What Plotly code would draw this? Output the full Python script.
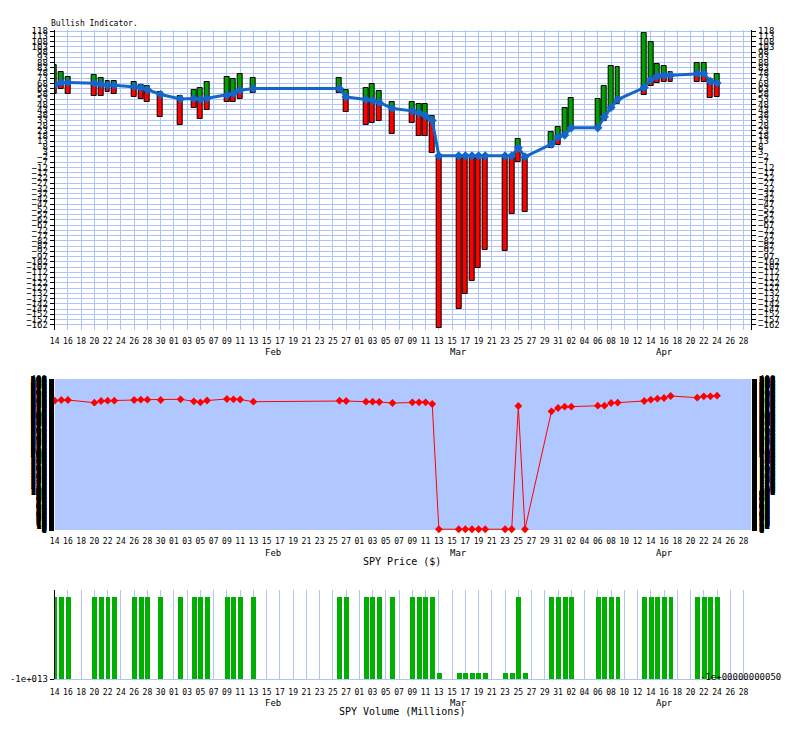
import plotly.graph_objects as go

# trading days shared by the three panels
days = [
    "2021-01-14", "2021-01-15", "2021-01-16", "2021-01-20", "2021-01-21", "2021-01-22",
    "2021-01-23", "2021-01-26", "2021-01-27", "2021-01-28", "2021-01-30",
    "2021-02-02", "2021-02-04", "2021-02-05", "2021-02-06", "2021-02-09", "2021-02-10",
    "2021-02-11", "2021-02-13", "2021-02-26", "2021-02-27",
    "2021-03-02", "2021-03-03", "2021-03-04", "2021-03-06", "2021-03-09", "2021-03-10",
    "2021-03-11", "2021-03-12", "2021-03-13", "2021-03-16", "2021-03-17", "2021-03-18",
    "2021-03-19", "2021-03-20", "2021-03-23", "2021-03-24", "2021-03-25", "2021-03-26",
    "2021-03-30", "2021-03-31",
    "2021-04-01", "2021-04-02", "2021-04-06", "2021-04-07", "2021-04-08", "2021-04-09",
    "2021-04-13", "2021-04-14", "2021-04-15", "2021-04-16", "2021-04-17", "2021-04-21",
    "2021-04-22", "2021-04-23", "2021-04-24",
]

# bullish indicator: line value, top of green part, bottom of red part
ind_line = [
    66.3, 68.9, 68.9, 68.2, 67.3, 66.3, 66.3, 65.1, 64.1, 62.2, 57.5,
    53.3, 53.7, 52.7, 53.7, 56.8, 58.4, 61.6, 63.2, 63.2, 55.2,
    52.7, 51.8, 49.9, 44.2, 41.9, 40.0, 37.1, 32.7, -1, -1, -1, -1, -1, -1, -1, -1, 6.7, -1.9, 10.2, 17.1,
    18.8, 25.7, 25.7, 36.2, 45.1, 52.7, 64.1, 71.7, 75.2, 75.6, 75.8, 77.5, 77.5, 70.1, 68.5,
]
ind_high = [
    86.0, 79.4, 74.6, 76.5, 73.7, 70.8, 70.8, 69.9, 67.0, 66.0, 60.3,
    56.5, 62.2, 64.1, 69.9, 74.6, 72.7, 77.5, 73.7, 73.7, 62.2,
    64.1, 67.9, 61.3, 50.8, 50.8, 48.9, 48.0, 36.6, -1, -1, -1, -1, -1, -1, -1, -1, 14.9, -1.9, 21.3, 26.1,
    45.1, 54.6, 53.7, 66.0, 85.1, 84.1, 116.5, 107.9, 87.0, 85.1, 79.4, 87.9, 87.9, 72.7, 77.5,
]
ind_low = [
    58.4, 63.2, 58.4, 56.5, 56.5, 60.3, 58.4, 55.6, 53.7, 50.8, 35.6,
    28.9, 45.1, 34.6, 43.2, 50.5, 49.9, 53.7, 59.4, 59.4, 41.0,
    28.9, 30.8, 32.7, 19.4, 30.8, 17.5, 17.5, 1.3, -165, -147.1, -132.8, -120.4, -108.1, -91.0, -91.9, -56.7,
    -7.2, -54.8, 6.1, 9.6,
    18.8, 25.7, 25.7, 31.8, 43.2, 48.0, 57.5, 66.0, 68.9, 69.9, 69.9, 69.9, 69.9, 54.6, 55.6,
]

# SPY price ($)
price = [
    342.5, 344.4, 344.4, 337.2, 341.7, 342.5, 342.5, 344.4, 345.2, 345.2, 344.4,
    346.2, 340.9, 338.3, 343.0, 347.0, 346.2, 345.7, 339.9, 342.5, 341.7,
    339.9, 339.9, 339.1, 336.4, 338.3, 338.3, 338.3, 333.8, 2, 2, 2, 2, 2, 2, 2, 2, 328.5, 2, 314.4, 323.2,
    326.6, 326.6, 329.3, 329.3, 336.4, 337.2, 341.7, 345.2, 347.8, 349.7, 355.0, 350.5, 354.2, 354.2, 355.8,
]

# SPY volume (millions)
volume = [
    91.7, 91.7, 91.7, 91.7, 91.7, 91.7, 91.7, 91.7, 91.7, 91.7, 91.7,
    91.7, 91.7, 91.7, 91.7, 91.7, 91.7, 91.7, 91.7, 91.7, 91.7,
    91.7, 91.7, 91.7, 91.7, 91.7, 91.7, 91.7, 91.7, 6.7, 6.7, 6.7, 6.7, 6.7, 6.7, 6.7, 6.7, 91.7, 6.7, 91.7, 91.7,
    91.7, 91.7, 91.7, 91.7, 91.7, 91.7, 91.7, 91.7, 91.7, 91.7, 91.7, 91.7, 91.7, 91.7, 91.7,
]

months = ["Feb", "Mar", "Apr"]
month_pos = ["2021-02-16", "2021-03-16", "2021-04-16"]
ind_ticks = list(range(-162, 119, 5))

MONO = "DejaVu Sans Mono"
GRID = "#b0c4f8"
DAY = 86400000
W, H = 793, 729

green_h = [h - l if h - l > 0 else None for h, l in zip(ind_high, ind_line)]
red_h = [l - lo if l - lo > 0 else None for l, lo in zip(ind_line, ind_low)]

fig = go.Figure()

# top panel
fig.add_trace(go.Bar(x=days, y=green_h, base=ind_line, width=0.75 * DAY,
                     marker=dict(color="#00a000", line=dict(color="black", width=1)),
                     xaxis="x", yaxis="y"))
fig.add_trace(go.Bar(x=days, y=red_h, base=ind_low, width=0.75 * DAY,
                     marker=dict(color="#ff0000", line=dict(color="black", width=1)),
                     xaxis="x", yaxis="y"))
fig.add_trace(go.Scatter(x=days, y=ind_line, mode="lines+markers",
                         line=dict(color="#1467c8", width=3),
                         marker=dict(symbol="diamond", size=7, color="#1467c8"),
                         xaxis="x", yaxis="y"))
fig.add_trace(go.Scatter(x=days[:1], y=[None], xaxis="x", yaxis="y2", hoverinfo="skip"))

# middle panel
fig.add_trace(go.Scatter(x=days, y=price, mode="lines+markers", cliponaxis=False,
                         line=dict(color="#ff0000", width=1),
                         marker=dict(symbol="diamond", size=6, color="#ff0000"),
                         xaxis="x2", yaxis="y3"))
fig.add_trace(go.Scatter(x=days[:1], y=[None], xaxis="x2", yaxis="y4", hoverinfo="skip"))

# bottom panel
fig.add_trace(go.Bar(x=days, y=volume, width=0.75 * DAY, marker=dict(color="#00b000", line=dict(width=0)),
                     xaxis="x3", yaxis="y5"))


def px_dom(top, bottom):
    return [1 - bottom / H, 1 - top / H]


xdom = [50 / W, 751 / W]
xrange_ = ["2021-01-14", "2021-04-29 04:00"]
xcommon = dict(domain=xdom, type="date", range=xrange_, tickmode="linear", tick0="2021-01-14",
               dtick=2 * DAY, tickformat="%d", ticks="", ticklabelstandoff=5, showline=False,
               zeroline=False, tickfont=dict(family=MONO, size=8, color="black"), fixedrange=True)
ytop = dict(range=[-167, 119], tickmode="array", tickvals=ind_ticks, ticks="outside", ticklen=4,
            tickcolor="black", showline=True, linecolor="black", linewidth=1, zeroline=False,
            tickfont=dict(family=MONO, size=9, color="black"), automargin=False)
yprice = dict(range=[0, 400], tickmode="linear", tick0=0, dtick=1, ticks="outside", ticklen=5,
              tickcolor="black", showline=False, showgrid=False, zeroline=False,
              tickfont=dict(family=MONO, size=9, color="black"), automargin=False)

fig.update_layout(
    width=W, height=H, margin=dict(l=0, r=0, t=0, b=0),
    paper_bgcolor="white", plot_bgcolor="white", showlegend=False, bargap=0, barmode="overlay",
    xaxis=dict(xcommon, anchor="y", showgrid=True, gridcolor=GRID, gridwidth=1),
    yaxis=dict(ytop, domain=px_dom(30, 330), anchor="x", side="left", showgrid=True, gridcolor=GRID),
    yaxis2=dict(ytop, anchor="x", overlaying="y", side="right", showgrid=False),
    xaxis2=dict(xcommon, anchor="y3", showgrid=False),
    yaxis3=dict(yprice, domain=px_dom(379, 530), anchor="x2", side="left"),
    yaxis4=dict(yprice, anchor="x2", overlaying="y3", side="right"),
    xaxis3=dict(xcommon, anchor="y5", showgrid=True, gridcolor=GRID, showline=True, linecolor=GRID),
    yaxis5=dict(domain=px_dom(590, 679), anchor="x3", range=[0, 100], tickmode="array", tickvals=[0],
                ticktext=["-1e+013"], ticks="outside", ticklen=4, tickcolor="black", showline=True,
                linecolor="black", showgrid=False, zeroline=False,
                tickfont=dict(family=MONO, size=9, color="black"), automargin=False),
)

fig.add_shape(type="rect", xref="x2 domain", yref="y3 domain", x0=0, x1=1, y0=0, y1=1,
              fillcolor="#b0c8ff", line=dict(width=0), layer="below")


def label(x, ypx, text, size=9, xref="paper", xanchor="center"):
    fig.add_annotation(x=x, y=1 - ypx / H, xref=xref, yref="paper", text=text, showarrow=False,
                       xanchor=xanchor, yanchor="middle",
                       font=dict(family=MONO, size=size, color="black"))


for m, pos in zip(months, month_pos):
    for xr, ypx in (("x", 352), ("x2", 552.5), ("x3", 703)):
        label(pos, ypx, m, xref=xr)

label(44 / W, 24, "Bullish Indicator.", size=8, xanchor="left")
label(400 / W, 561, "SPY Price ($)", size=10)
label(400 / W, 711, "SPY Volume (Millions)", size=10)
label(697 / W, 677, "-1e+00000000050", xanchor="left")

fig.write_html("out.html", config={"displayModeBar": False},
               post_script="document.body.style.margin='0';")
